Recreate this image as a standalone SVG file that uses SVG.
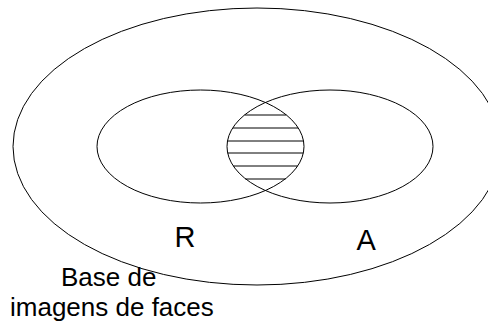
<svg xmlns="http://www.w3.org/2000/svg" width="488" height="325" viewBox="0 0 488 325">
  <style>
    .ring { fill: none; stroke: #000; stroke-width: 1; }
    .hatch { stroke: #000; stroke-width: 1; }
    .lbl { font-family: "Liberation Sans", Arial, sans-serif; fill: #000; }
  </style>
  <rect x="0" y="0" width="488" height="325" fill="#fff"/>
  <g id="base">
    <ellipse class="ring" cx="257" cy="146.5" rx="244" ry="138.5"/>
    <text class="lbl" font-size="26" x="61" y="285.5">Base de</text>
    <text class="lbl" font-size="26" x="10" y="316">imagens de faces</text>
  </g>
  <g id="setR">
    <ellipse class="ring" cx="200.5" cy="146.5" rx="103.5" ry="56.5"/>
    <text class="lbl" font-size="29" x="174.5" y="247">R</text>
  </g>
  <g id="setA">
    <ellipse class="ring" cx="330" cy="146.5" rx="103" ry="56.5"/>
    <text class="lbl" font-size="29" x="356.5" y="250">A</text>
  </g>
  <g id="intersection">
    <line class="hatch" x1="244.5" y1="115" x2="286.4" y2="115"/>
    <line class="hatch" x1="232.9" y1="128" x2="298.1" y2="128"/>
    <line class="hatch" x1="227.5" y1="141" x2="303.5" y2="141"/>
    <line class="hatch" x1="227.7" y1="153" x2="303.3" y2="153"/>
    <line class="hatch" x1="233.3" y1="166" x2="297.6" y2="166"/>
    <line class="hatch" x1="245.4" y1="179" x2="285.5" y2="179"/>
  </g>
  <g id="connectors"></g>
</svg>
